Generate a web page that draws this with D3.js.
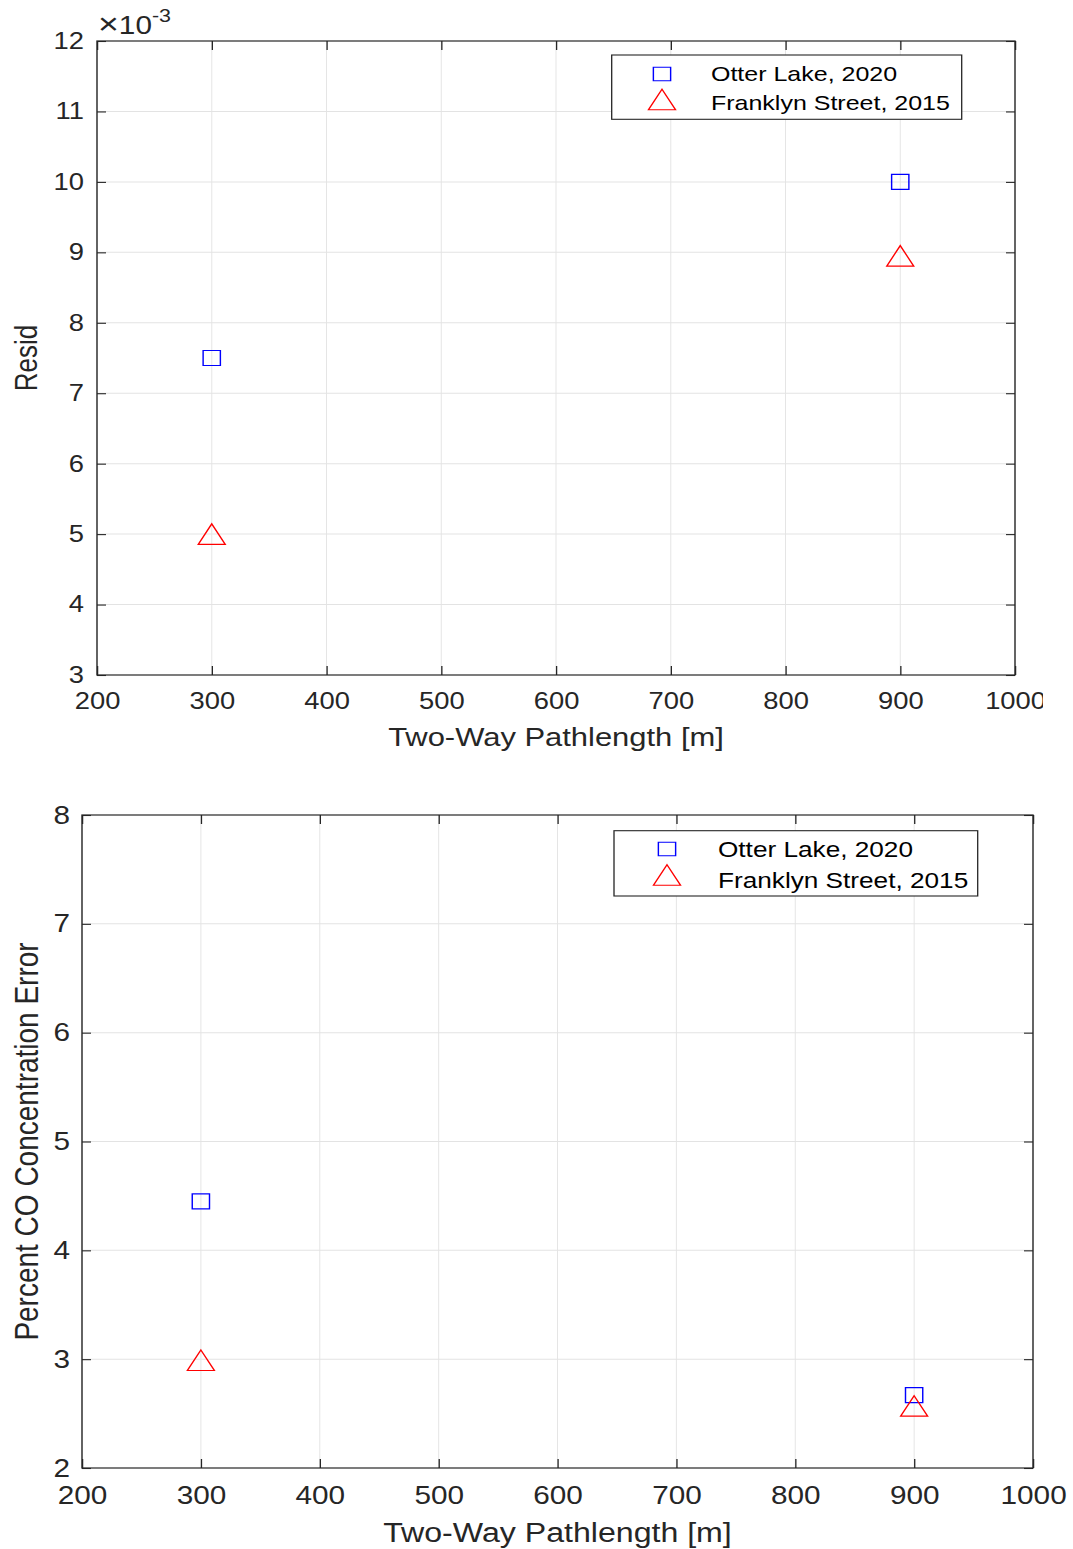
<!DOCTYPE html>
<html>
<head>
<meta charset="utf-8">
<script src="https://cdn.jsdelivr.net/npm/d3@7"></script>
<style>
  html, body { margin: 0; padding: 0; background: #ffffff; }
  svg { display: block; }
</style>
</head>
<body>
<svg id="fig" width="1073" height="1549"></svg>
<script>
// ---- data ----
const pathlength = [300, 900];                 // two-way pathlength [m]
const residOtter = [0.0075, 0.0100];           // Otter Lake, 2020
const residFranklyn = [0.0050, 0.00895];       // Franklyn Street, 2015
const errorOtter = [4.45, 2.67];               // percent CO concentration error
const errorFranklyn = [2.99, 2.57];
const seriesNames = ["Otter Lake, 2020", "Franklyn Street, 2015"];
const xTicks = [200, 300, 400, 500, 600, 700, 800, 900, 1000];
const residTicks = [0.003, 0.004, 0.005, 0.006, 0.007, 0.008, 0.009, 0.010, 0.011, 0.012];
const errorTicks = [2, 3, 4, 5, 6, 7, 8];

// ---- styling ----
const SX = 1.19;               // horizontal stretch of the figure
const FONT = "'Liberation Sans', Arial, Helvetica, sans-serif";
const AXIS = "#262626";
const GRID = "#e3e3e3";
const BLUE = "#0000ff";
const RED = "#ff0000";

const svg = d3.select("#fig");
const defs = svg.append("defs");

function squarePath(cx, cy, w, h) {
  return `M${cx - w / 2},${cy - h / 2}H${cx + w / 2}V${cy + h / 2}H${cx - w / 2}Z`;
}
function trianglePath(cx, cy, w, h) {
  return `M${cx},${cy - h / 2}L${cx + w / 2},${cy + h / 2}L${cx - w / 2},${cy + h / 2}Z`;
}
const SQ = { w: 14.5, h: 15 };
const TR = { w: 22.7, h: 20.5 };

function drawPanel(o) {
  // outer group (screen units) used for clipping; inner group stretched horizontally
  const clipId = "clip-" + o.id;
  defs.append("clipPath").attr("id", clipId)
    .append("rect").attr("x", 0).attr("y", o.clip[1]).attr("width", o.clip[0]).attr("height", o.clip[2]);
  const outer = svg.append("g").attr("clip-path", `url(#${clipId})`);
  const g = outer.append("g").attr("transform", `scale(${SX},1)`);

  const L = o.frame.left / SX, R = o.frame.right / SX, T = o.frame.top, B = o.frame.bottom;
  const x = d3.scaleLinear().domain([200, 1000]).range([L, R]);
  const y = d3.scaleLinear().domain(o.yDomain).range([B, T]);

  // grid
  g.append("g").selectAll("line").data(xTicks.slice(1, -1)).join("line")
    .attr("x1", d => x(d)).attr("x2", d => x(d)).attr("y1", T).attr("y2", B)
    .attr("stroke", GRID).attr("stroke-width", 1 / SX);
  g.append("g").selectAll("line").data(o.yTicks.slice(1, -1)).join("line")
    .attr("x1", L).attr("x2", R).attr("y1", d => y(d)).attr("y2", d => y(d))
    .attr("stroke", GRID).attr("stroke-width", 1);

  // axes with inward ticks on all four sides
  const tickLenY = 9, tickLenX = 9 / SX;
  const styleAxis = sel => {
    sel.select(".domain").remove();
    sel.selectAll(".tick line").attr("stroke", AXIS).attr("stroke-width", 1.1);
    sel.selectAll("text").attr("fill", AXIS).attr("font-family", FONT).attr("font-size", o.tickFont);
  };
  g.append("g").attr("transform", `translate(0,${B})`)
    .call(d3.axisBottom(x).tickValues(xTicks).tickSize(-tickLenY).tickPadding(o.xPad).tickFormat(d3.format("d")))
    .call(styleAxis);
  g.append("g").attr("transform", `translate(0,${T})`)
    .call(d3.axisTop(x).tickValues(xTicks).tickSize(-tickLenY).tickFormat(""))
    .call(styleAxis);
  g.append("g").attr("transform", `translate(${L},0)`)
    .call(d3.axisLeft(y).tickValues(o.yTicks).tickSize(-tickLenX).tickPadding(o.yPad).tickFormat(o.yFormat))
    .call(styleAxis);
  g.append("g").attr("transform", `translate(${R},0)`)
    .call(d3.axisRight(y).tickValues(o.yTicks).tickSize(-tickLenX).tickFormat(""))
    .call(styleAxis);

  // frame
  g.append("rect").attr("x", L).attr("y", T).attr("width", R - L).attr("height", B - T)
    .attr("fill", "none").attr("stroke", AXIS).attr("stroke-width", 1.2);

  // axis labels
  g.append("text").attr("x", (L + R) / 2).attr("y", o.xLabelY)
    .attr("text-anchor", "middle").attr("font-family", FONT).attr("font-size", o.xLabelFont)
    .attr("fill", AXIS).text("Two-Way Pathlength [m]");
  g.append("text")
    .attr("transform", `translate(${o.yLabelX / SX},${(T + B) / 2}) rotate(-90)`)
    .attr("text-anchor", "middle").attr("font-family", FONT).attr("font-size", o.yLabelFont)
    .attr("fill", AXIS).text(o.yLabel);

  if (o.exponent) {
    const t = g.append("text").attr("x", 98 / SX).attr("y", 34)
      .attr("font-family", FONT).attr("fill", AXIS);
    t.append("tspan").attr("font-size", 30).attr("font-weight", 300).attr("dy", 0).text("\u00d7");
    t.append("tspan").attr("font-size", 25).attr("dy", 0).text("10");
    t.append("tspan").attr("font-size", 18).attr("dy", -12).text(o.exponent);
  }

  // data markers
  g.append("g").selectAll("path").data(pathlength.map((p, i) => [p, o.otter[i]])).join("path")
    .attr("d", d => squarePath(x(d[0]), y(d[1]), SQ.w, SQ.h))
    .attr("fill", "none").attr("stroke", BLUE).attr("stroke-width", 1.2);
  g.append("g").selectAll("path").data(pathlength.map((p, i) => [p, o.franklyn[i]])).join("path")
    .attr("d", d => trianglePath(x(d[0]), y(d[1]), TR.w, TR.h))
    .attr("fill", "none").attr("stroke", RED).attr("stroke-width", 1.2);

  // legend
  const lg = o.legend;
  g.append("rect").attr("x", lg.x0 / SX).attr("y", lg.y0)
    .attr("width", (lg.x1 - lg.x0) / SX).attr("height", lg.y1 - lg.y0)
    .attr("fill", "#ffffff").attr("stroke", AXIS).attr("stroke-width", 1.1);
  g.append("path").attr("d", squarePath(lg.mx / SX, lg.rows[0], SQ.w, SQ.h * 0.9))
    .attr("fill", "none").attr("stroke", BLUE).attr("stroke-width", 1.2);
  g.append("path").attr("d", trianglePath(lg.mx / SX, lg.rows[1], TR.w, TR.h))
    .attr("fill", "none").attr("stroke", RED).attr("stroke-width", 1.2);
  g.append("g").selectAll("text").data(seriesNames).join("text")
    .attr("x", lg.tx / SX).attr("y", (d, i) => lg.base[i])
    .attr("font-family", FONT).attr("font-size", lg.font).attr("fill", "#000000")
    .text(d => d);
}

drawPanel({
  id: "resid",
  clip: [1043, 0, 770],
  frame: { left: 97, right: 1015, top: 41, bottom: 675 },
  yDomain: [0.003, 0.012],
  yTicks: residTicks,
  yFormat: d => d3.format("d")(Math.round(d * 1000)),
  yLabel: "Resid",
  exponent: "-3",
  otter: residOtter,
  franklyn: residFranklyn,
  tickFont: 23, xPad: 18, yPad: 11,
  xLabelFont: 26, xLabelY: 746,
  yLabelFont: 26, yLabelX: 37,
  legend: { x0: 611.7, x1: 961.7, y0: 55, y1: 119.3, mx: 662, tx: 711,
            rows: [74, 99.5], base: [81.5, 110.5], font: 21 }
});

drawPanel({
  id: "error",
  clip: [1073, 770, 779],
  frame: { left: 82, right: 1033, top: 815, bottom: 1468 },
  yDomain: [2, 8],
  yTicks: errorTicks,
  yFormat: d3.format("d"),
  yLabel: "Percent CO Concentration Error",
  exponent: null,
  otter: errorOtter,
  franklyn: errorFranklyn,
  tickFont: 25, xPad: 18.5, yPad: 10,
  xLabelFont: 27, xLabelY: 1542,
  yLabelFont: 28, yLabelX: 38,
  legend: { x0: 614, x1: 977.7, y0: 830.7, y1: 896, mx: 667, tx: 718,
            rows: [849, 875], base: [857, 888], font: 22 }
});
</script>
</body>
</html>
